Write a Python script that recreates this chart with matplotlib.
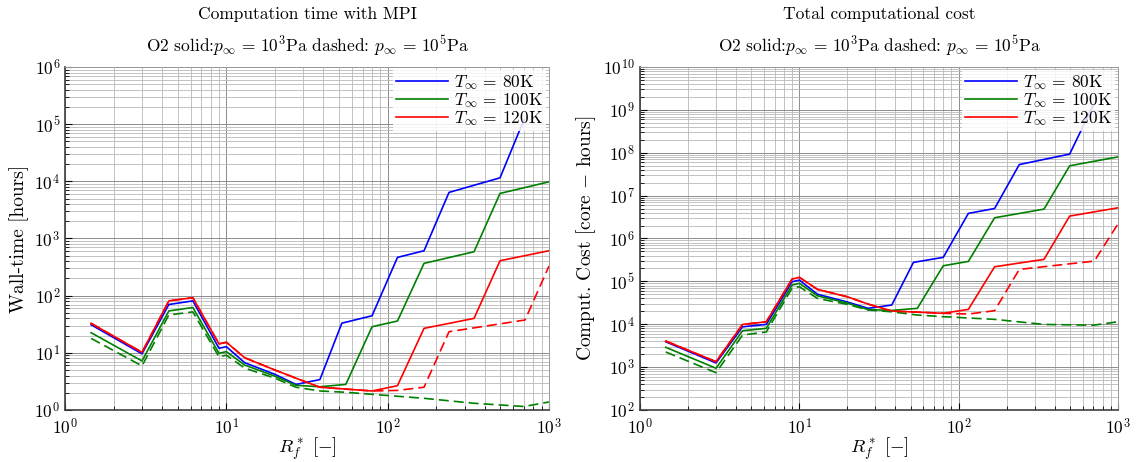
import matplotlib
matplotlib.use("Agg")
import matplotlib.pyplot as plt
from matplotlib.ticker import LogLocator, NullFormatter

plt.rcParams.update({
    "font.family": "serif",
    "font.serif": ["cmr10"],
    "mathtext.fontset": "cm",
    "axes.formatter.use_mathtext": True,
    "axes.unicode_minus": False,
    "font.size": 12,
})

# Non-dimensional radius R_f* sampled per case
rf_80 = [1.45, 3, 4.4, 6.2, 9, 10, 13, 20, 27, 38, 52, 80, 115, 168, 240, 497, 700]
rf_100 = [1.45, 3, 4.4, 6.2, 9, 10, 13, 20, 27, 38, 55, 80, 115, 168, 343, 497, 1000]
rf_120 = [1.45, 3, 4.4, 6.2, 9, 10, 13, 20, 27, 38, 80, 115, 168, 343, 497, 1000]
rf_100_hp = [1.45, 3, 4.4, 6.2, 9, 10, 13, 20, 27, 38, 55, 80, 168, 343, 700, 1000]
rf_120_hp = [1.45, 3, 4.4, 6.2, 9, 10, 13, 20, 27, 38, 80, 115, 168, 240, 710, 1000]

# Wall-time [hours], p = 1e3 Pa (solid)
wall_80 = [31, 9.6, 70, 81, 12, 12.8, 6.7, 4.2, 2.8, 3.4, 33, 44.5, 467, 610, 6400, 11500, 120000]
wall_100 = [22.5, 7.2, 54, 62, 9.8, 10.5, 6.1, 3.9, 2.7, 2.55, 2.8, 28.6, 36, 367, 586, 6140, 9800]
wall_120 = [32.8, 10.2, 81, 92, 14.3, 15.3, 8.2, 5.0, 3.6, 2.5, 2.15, 2.66, 26.8, 40, 408, 610]
# Wall-time [hours], p = 1e5 Pa (dashed)
wall_100_hp = [17.9, 5.9, 46, 52, 8.5, 9.1, 5.4, 3.6, 2.5, 2.15, 2.04, 1.88, 1.6, 1.31, 1.15, 1.38]
wall_120_hp = [32.8, 10.2, 81, 92, 14.3, 15.3, 8.2, 5.0, 3.6, 2.5, 2.15, 2.2, 2.5, 23.4, 37.5, 329]

# Computational cost [core-hours], p = 1e3 Pa (solid)
cost_80 = [3900, 1250, 8700, 9900, 98000, 107000, 50000, 33000, 23500, 28000, 277000, 363000,
           3.85e6, 5.0e6, 5.3e7, 9.3e7, 1.3e9]
cost_100 = [2900, 940, 7060, 8000, 82000, 90000, 46000, 31000, 22000, 21000, 23500, 231000,
            292000, 3.04e6, 4.84e6, 4.96e7, 8.0e7]
cost_120 = [4060, 1340, 9900, 11400, 113000, 124000, 65000, 43700, 29500, 20300, 18000, 22200,
            219000, 326000, 3.33e6, 5.2e6]
# Computational cost [core-hours], p = 1e5 Pa (dashed)
cost_100_hp = [2250, 740, 5600, 6600, 69000, 75000, 40000, 29000, 21500, 19500, 16400, 15000,
               13000, 9900, 9500, 11400]
cost_120_hp = [4060, 1340, 9900, 11400, 113000, 124000, 65000, 43700, 29500, 20300, 18000, 17300,
               20700, 190000, 297000, 2.2e6]

legend_labels = [r"$T_\infty\,=\,80\mathrm{K}$", r"$T_\infty\,=\,100\mathrm{K}$",
                 r"$T_\infty\,=\,120\mathrm{K}$"]
subtitle = (r"O2 solid:$p_\infty\,=\,10^3\mathrm{Pa}$ dashed: "
            r"$p_\infty\,=\,10^5\mathrm{Pa}$")

fig = plt.figure(figsize=(11.39, 4.62), dpi=100)
ax1 = fig.add_axes([0.0571, 0.1126, 0.4249, 0.7424])
ax2 = fig.add_axes([0.5619, 0.1126, 0.4197, 0.7424])

LW = 1.2
DASH = (6, 3)


def style_axes(ax, ylo, yhi):
    ax.set_xscale("log")
    ax.set_yscale("log")
    ax.set_xlim(1, 1000)
    ax.set_ylim(ylo, yhi)
    ax.yaxis.set_major_locator(LogLocator(base=10, numticks=30))
    ax.yaxis.set_minor_locator(LogLocator(base=10, subs=range(2, 10), numticks=30))
    ax.yaxis.set_minor_formatter(NullFormatter())
    ax.xaxis.set_minor_formatter(NullFormatter())
    ax.grid(which="major", color="0.55", linewidth=0.7)
    ax.grid(which="minor", color="0.72", linewidth=0.6)
    ax.set_axisbelow(True)
    ax.tick_params(which="both", direction="in", top=False, right=False, labelsize=12.5)
    ax.tick_params(axis="x", pad=5)
    ax.tick_params(which="major", length=5, width=0.8)
    ax.tick_params(which="minor", length=3, width=0.6)
    for s in ("top", "right"):
        ax.spines[s].set_color("0.6")
        ax.spines[s].set_linewidth(0.7)
    for s in ("left", "bottom"):
        ax.spines[s].set_color("0.25")
        ax.spines[s].set_linewidth(1.2)
    ax.set_xlabel(r"$R_f^*\ [-]$", fontsize=13.5, labelpad=-2)


def draw(ax, y80, y100, y120, y100hp, y120hp):
    ax.plot(rf_80, y80, color="blue", lw=LW, label=legend_labels[0])
    ax.plot(rf_100, y100, color="green", lw=LW, label=legend_labels[1])
    ax.plot(rf_120, y120, color="red", lw=LW, label=legend_labels[2])
    ax.plot(rf_100_hp, y100hp, color="green", lw=LW, dashes=DASH)
    ax.plot(rf_120_hp, y120hp, color="red", lw=LW, dashes=DASH)
    leg = ax.legend(loc="upper right", fontsize=12.5, frameon=True, framealpha=0.85,
                    edgecolor="none", fancybox=False, handlelength=3.0,
                    labelspacing=-0.05, borderpad=0.15, borderaxespad=0.2,
                    handletextpad=0.35)
    leg.get_frame().set_facecolor("white")


style_axes(ax1, 1, 1e6)
draw(ax1, wall_80, wall_100, wall_120, wall_100_hp, wall_120_hp)
ax1.set_ylabel("Wall-time [hours]", fontsize=14)
ax1.set_title("Computation time with MPI\n" + subtitle, fontsize=12.5, linespacing=1.65, pad=11)

style_axes(ax2, 1e2, 1e10)
draw(ax2, cost_80, cost_100, cost_120, cost_100_hp, cost_120_hp)
ax2.set_ylabel(r"Comput. Cost $[\mathrm{core}\,-\,\mathrm{hours}]$", fontsize=14)
ax2.set_title("Total computational cost\n" + subtitle, fontsize=12.5, linespacing=1.65, pad=11)

fig.savefig("out.png", dpi=100)
